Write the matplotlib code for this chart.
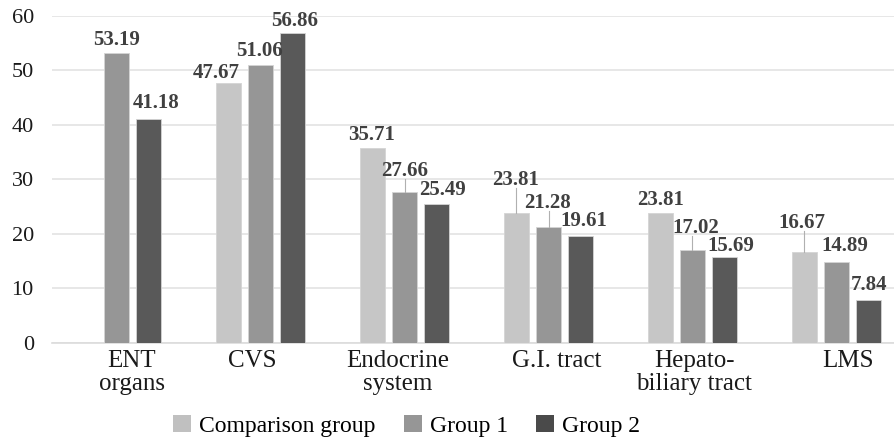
import numpy as np
import matplotlib.pyplot as plt
from matplotlib.patches import Patch
from matplotlib.transforms import ScaledTranslation

plt.rcParams['font.family'] = ['Liberation Serif', 'DejaVu Serif']

categories = ['ENT\norgans', 'CVS', 'Endocrine\nsystem', 'G.I. tract', 'Hepato-\nbiliary tract', 'LMS']
series_names = ['Comparison group', 'Group 1', 'Group 2']
comparison = [np.nan, 47.67, 35.71, 23.81, 23.81, 16.67]
group1 = [53.19, 51.06, 27.66, 21.28, 17.02, 14.89]
group2 = [41.18, 56.86, 25.49, 19.61, 15.69, 7.84]
yticks = [0, 10, 20, 30, 40, 50, 60]

colors = ['#c6c6c6', '#969696', '#595959']
legend_colors = ['#c0c0c0', '#969696', '#4a4a4a']

# label placement in pixels: sideways shift and gap above the bar top
label_dx = [
    [0, -12, -1, -1, 0, -2.5],
    [0, -1.5, 0, -1, 3.5, 8],
    [7, 2, 6, 3.5, 6.5, 0],
]
label_gap = [
    [0, 3, 6, 26, 6, 22],
    [6, 7, 14, 17, 15, 9],
    [9, 5, 7, 8, 4.5, 8],
]
# category label shifts in pixels
xlabel_dx = [15, -8, -7, 8, 2, 12]

fig = plt.figure(figsize=(8.94, 4.42), dpi=100)
ax = fig.add_axes([0.058, 0.224, 0.942, 0.740])
px_per_unit = 0.740 * 442 / 60

x = np.arange(len(categories))
width = 0.174
step = 0.223
all_series = [comparison, group1, group2]

for i, vals in enumerate(all_series):
    pos = x + (i - 1) * step
    ax.bar(pos, vals, width, color=colors[i], edgecolor='#d4d4d4', linewidth=0.6, zorder=3)
    for j, v in enumerate(vals):
        if np.isnan(v):
            continue
        dx = label_dx[i][j]
        gap = label_gap[i][j]
        ax.annotate(f'{v:.2f}', xy=(pos[j], v), xytext=(dx * 0.72, (gap - 3) * 0.72),
                    textcoords='offset points', ha='center', va='bottom',
                    fontsize=15, fontweight='bold', color='#404040',
                    annotation_clip=False, zorder=5)
        if gap >= 12:
            # leader line up to a raised label
            ax.plot([pos[j], pos[j]], [v, v + (gap - 1) / px_per_unit],
                    color='#b0b0b0', linewidth=0.8, zorder=4, clip_on=False)

ax.set_ylim(0, 60)
ax.set_xlim(-0.45, 5.4)
ax.set_yticks(yticks)
ax.set_xticks(x)
ax.set_xticklabels([])
# category names drawn as text so each can be nudged sideways
for xi, name, shift in zip(x, categories, xlabel_dx):
    tr = ax.get_xaxis_transform() + ScaledTranslation(shift / 100, -7 / 100, fig.dpi_scale_trans)
    ax.text(xi, 0, name, transform=tr, ha='center', va='top', fontsize=18,
            linespacing=1.08, color='#1a1a1a')
ax.tick_params(axis='y', labelsize=16, length=0, pad=13, colors='#1a1a1a')
ax.tick_params(axis='x', length=0)
ax.grid(axis='y', color='#e3e3e3', linewidth=1.2, zorder=0)
for side in ['top', 'right', 'left']:
    ax.spines[side].set_visible(False)
ax.spines['bottom'].set_color('#dcdcdc')
ax.spines['bottom'].set_linewidth(1.2)

handles = [Patch(facecolor=c, edgecolor='none') for c in legend_colors]
fig.legend(handles, series_names, loc='center', bbox_to_anchor=(0.455, 0.036),
           ncol=3, frameon=False, fontsize=17, handlelength=0.75, handleheight=0.75,
           handletextpad=0.35, columnspacing=1.2)

fig.savefig('out.png', dpi=100)
